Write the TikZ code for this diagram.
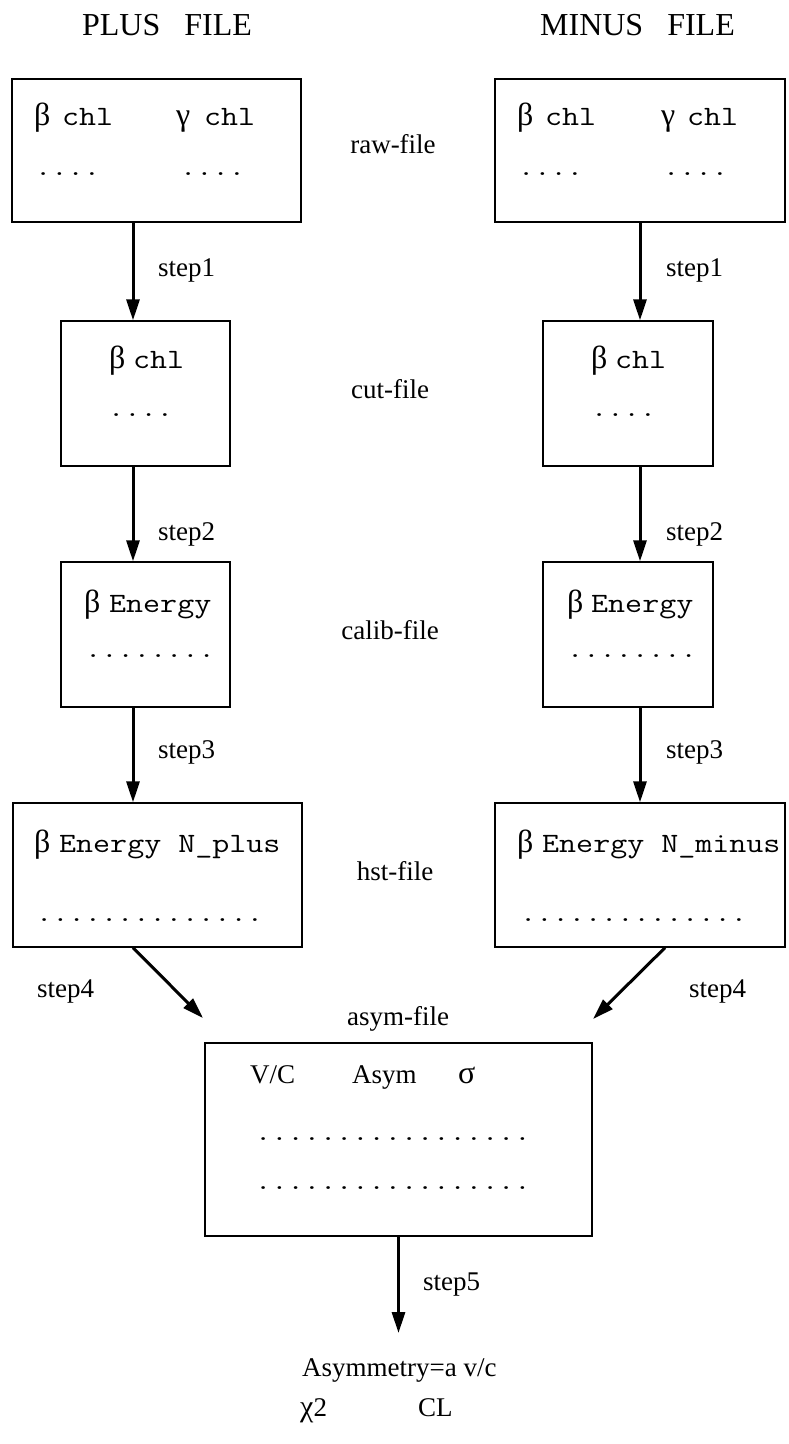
\documentclass[tikz,border=0pt]{standalone}
\usepackage{fontspec}
\usepackage{graphicx}
\setmainfont{Liberation Serif}
\usetikzlibrary{arrows.meta}
\newcommand\mono[1]{\scalebox{1.21}[1]{\ttfamily\fontsize{26}{30}\selectfont #1}}
\newcommand\monow[1]{\scalebox{1.18}[1]{\ttfamily\fontsize{28}{32}\selectfont #1}}
\newcommand\gk[1]{{\fontsize{32}{36}\selectfont #1}}
\tikzset{
  filebox/.style={draw, line width=1.4pt, inner sep=0pt},
  arr/.style={line width=3pt, -{Triangle[length=21pt,width=13pt]}},
  lbl/.style={inner sep=0pt, anchor=base west, font=\fontsize{27}{32}\selectfont},
  mlbl/.style={inner sep=0pt, anchor=base, font=\fontsize{27}{32}\selectfont},
  txt/.style={inner sep=0pt, anchor=base west},
  ttl/.style={inner sep=0pt, anchor=base, font=\fontsize{32}{36}\selectfont}
}
\begin{document}
\begin{tikzpicture}[x=1pt,y=-1pt]
\path[use as bounding box] (0,0) rectangle (788,1444);
% titles
\node[ttl] (tP) at (167,35) {PLUS\hspace{0.75em}FILE};
\node[ttl] (tM) at (637.5,35) {MINUS\hspace{0.75em}FILE};
% boxes
\node[filebox, minimum width=289pt, minimum height=143pt] (rawP) at (156.5,150.5) {};
\node[filebox, minimum width=290pt, minimum height=143pt] (rawM) at (640,150.5) {};
\node[filebox, minimum width=169pt, minimum height=145pt] (cutP) at (145.5,393.5) {};
\node[filebox, minimum width=170pt, minimum height=145pt] (cutM) at (628,393.5) {};
\node[filebox, minimum width=169pt, minimum height=145pt] (calP) at (145.5,634.5) {};
\node[filebox, minimum width=170pt, minimum height=145pt] (calM) at (628,634.5) {};
\node[filebox, minimum width=289pt, minimum height=144pt] (hstP) at (157.5,875) {};
\node[filebox, minimum width=290pt, minimum height=144pt] (hstM) at (640,875) {};
\node[filebox, minimum width=387pt, minimum height=193pt] (asym) at (398.5,1139.5) {};
% box contents: raw
\node[txt] (rPb) at (34,125) {\gk{β}};
\node[txt] (rPc) at (62,125) {\monow{chl}};
\node[txt] (rPg) at (176,125) {\gk{γ}};
\node[txt] (rPc2) at (204,125) {\monow{chl}};
\node[txt] (rPd) at (35,175) {\mono{....}};
\node[txt] (rPd2) at (180,175) {\mono{....}};
\node[txt] (rMb) at (517,125) {\gk{β}};
\node[txt] (rMc) at (545,125) {\monow{chl}};
\node[txt] (rMg) at (661,125) {\gk{γ}};
\node[txt] (rMc2) at (687,125) {\monow{chl}};
\node[txt] (rMd) at (518,175) {\mono{....}};
\node[txt] (rMd2) at (663,175) {\mono{....}};
% cut
\node[txt] (cPb) at (109,368) {\gk{β}};
\node[txt] (cPc) at (133,368) {\monow{chl}};
\node[txt] (cPd) at (108,416) {\mono{....}};
\node[txt] (cMb) at (591,368) {\gk{β}};
\node[txt] (cMc) at (615,368) {\monow{chl}};
\node[txt] (cMd) at (591,416) {\mono{....}};
% calib
\node[txt] (kPb) at (84,612) {\gk{β}};
\node[txt] (kPe) at (109,612) {\monow{Energy}};
\node[txt] (kPd) at (85,657) {\mono{........}};
\node[txt] (kMb) at (567,612) {\gk{β}};
\node[txt] (kMe) at (591,612) {\monow{Energy}};
\node[txt] (kMd) at (567,657) {\mono{........}};
% hst
\node[txt] (hPb) at (34,852) {\gk{β}};
\node[txt] (hPe) at (59,852) {\monow{Energy N\_plus}};
\node[txt] (hPd) at (36,921) {\mono{..............}};
\node[txt] (hMb) at (517,852) {\gk{β}};
\node[txt] (hMe) at (542,852) {\monow{Energy N\_minus}};
\node[txt] (hMd) at (520,921) {\mono{..............}};
% asym
\node[lbl] (aVC) at (250,1083) {V/C};
\node[lbl] (aAs) at (352,1083) {Asym};
\node[lbl] (aSg) at (458,1083) {\gk{σ}};
\node[txt] (aD1) at (255,1140) {\mono{.................}};
\node[txt] (aD2) at (255,1189) {\mono{.................}};
% middle labels
\node[mlbl] (lraw) at (393,153) {raw-file};
\node[mlbl] (lcut) at (390,398) {cut-file};
\node[mlbl] (lcal) at (390,639) {calib-file};
\node[mlbl] (lhst) at (395,880) {hst-file};
\node[mlbl] (lasy) at (398,1025) {asym-file};
% step labels
\node[lbl] (s1P) at (158,276) {step1};
\node[lbl] (s1M) at (666,276) {step1};
\node[lbl] (s2P) at (158,540) {step2};
\node[lbl] (s2M) at (666,540) {step2};
\node[lbl] (s3P) at (158,758) {step3};
\node[lbl] (s3M) at (666,758) {step3};
\node[lbl] (s4P) at (37,997) {step4};
\node[lbl] (s4M) at (689,997) {step4};
\node[lbl] (s5) at (423,1290) {step5};
% result
\node[lbl] (res) at (302,1376) {Asymmetry=a v/c};
\node[lbl] (chi) at (300,1416) {{\fontsize{30}{34}\selectfont χ}2};
\node[lbl] (cl) at (418,1416) {CL};
% arrow coordinates
\coordinate (xP) at (133,0);
\coordinate (xM) at (640,0);
\coordinate (xP4) at (133,0);
\coordinate (xM4) at (665,0);
\coordinate (tipP) at (203,1018);
\coordinate (tipM) at (593,1019);
\coordinate (tip5) at (399,1333);
% arrows
\draw[arr] (xP |- rawP.south) -- (xP |- cutP.north);
\draw[arr] (xM |- rawM.south) -- (xM |- cutM.north);
\draw[arr] (xP |- cutP.south) -- (xP |- calP.north);
\draw[arr] (xM |- cutM.south) -- (xM |- calM.north);
\draw[arr] (xP |- calP.south) -- (xP |- hstP.north);
\draw[arr] (xM |- calM.south) -- (xM |- hstM.north);
\draw[arr] (xP4 |- hstP.south) -- (tipP);
\draw[arr] (xM4 |- hstM.south) -- (tipM);
\draw[arr] (asym.south) -- (asym.south |- tip5);
\end{tikzpicture}
\end{document}
